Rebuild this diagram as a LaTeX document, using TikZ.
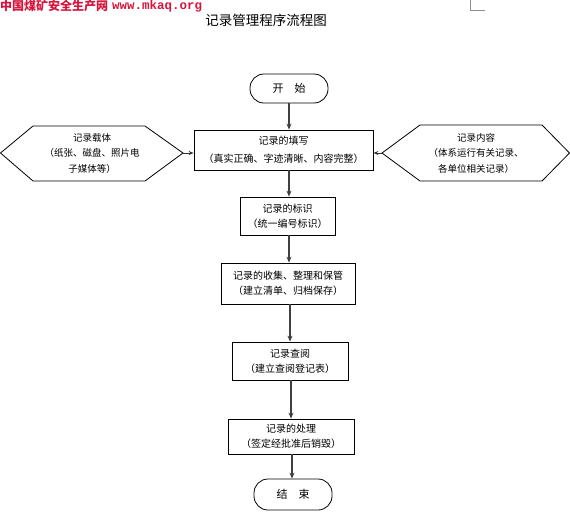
\documentclass[tikz,border=0pt]{standalone}
\usepackage{fontspec}
\setmainfont{Liberation Serif}
\newfontfamily\cjk{Noto Sans CJK SC}
\newfontfamily\wmono{Liberation Mono}
\usetikzlibrary{arrows.meta}
\definecolor{wmred}{RGB}{215,20,60}
\tikzset{
  every node/.style={font=\cjk\fontsize{10}{15}\selectfont, align=center, inner sep=0pt},
  stepbox/.style={draw=black, line width=0.8pt},
  term/.style={draw=black, line width=0.8pt, rounded corners=14pt, font=\cjk\fontsize{11}{13}\selectfont},
  flow/.style={draw=black!75, line width=1.8pt, -{Stealth[length=6pt,width=5pt]}},
  side/.style={draw=black!80, line width=0.8pt, -{Stealth[length=5pt,width=4pt]}},
  hexline/.style={draw=black, line width=0.8pt},
}
\begin{document}
\begin{tikzpicture}[x=1pt,y=-1pt]
\useasboundingbox (0,0) rectangle (570,523);
% watermark
\node[anchor=west, text=wmred, font=\cjk\bfseries\fontsize{12}{12}\selectfont] (wm) at (0,6) {中国煤矿安全生产网};
\node[anchor=west, text=wmred, font=\wmono\bfseries\fontsize{12.5}{12}\selectfont] (wm2) at (112,6) {www.mkaq.org};
\draw[black!45, line width=0.6pt] (470,0) -- (470,10) -- (485,10);
% title
\node[font=\cjk\fontsize{13.5}{14}\selectfont] (title) at (266,20) {记录管理程序流程图};
% terminals
\node[term, minimum width=78pt, minimum height=29pt] (start) at (289,88.5) {开\hspace{1em}始};
\node[term, minimum width=78pt, minimum height=31pt] (end) at (293,494.5) {结\hspace{1em}束};
% boxes
\node[stepbox, minimum width=179pt, minimum height=40pt, font=\cjk\fontsize{10}{18}\selectfont] (b1) at (283.5,150) {记录的填写\\（真实正确、字迹清晰、内容完整）};
\node[stepbox, minimum width=95pt, minimum height=38pt] (b2) at (287.5,216) {记录的标识\\（统一编号标识）};
\node[stepbox, minimum width=134pt, minimum height=41pt] (b3) at (288,283.5) {记录的收集、整理和保管\\（建立清单、归档保存）};
\node[stepbox, minimum width=116pt, minimum height=38pt] (b4) at (290,361) {记录查阅\\（建立查阅登记表）};
\node[stepbox, minimum width=126pt, minimum height=35pt] (b5) at (291,436.5) {记录的处理\\（签定经批准后销毁）};
% hexagons
\draw[hexline] (0.5,153) -- (33,126) -- (145,126) -- (183,153) -- (145,181) -- (33,181) -- cycle;
\coordinate (lp) at (183,153);
\node[font=\cjk\fontsize{9.5}{15.5}\selectfont] (lt) at (92,153) {记录载体\\（纸张、磁盘、照片电\\子媒体等）};
\draw[hexline] (382,153) -- (420,125) -- (542,125) -- (569.5,153) -- (542,181) -- (420,181) -- cycle;
\coordinate (rp) at (382,153);
\node[font=\cjk\fontsize{9.5}{15.5}\selectfont] (rt) at (476,153) {记录内容\\（体系运行有关记录、\\各单位相关记录）};
% connectors
\draw[flow] (start.south -| 289,0) -- (b1.north -| 289,0);
\draw[flow] (b1.south -| 289,0) -- (b2.north -| 289,0);
\draw[flow] (b2.south -| 289,0) -- (b3.north -| 289,0);
\draw[flow] (b3.south -| 290,0) -- (b4.north -| 290,0);
\draw[flow] (b4.south -| 291,0) -- (b5.north -| 291,0);
\draw[flow] (b5.south -| 292,0) -- (end.north -| 292,0);
\draw[side] (lp) -- (b1.west |- lp);
\draw[side] (rp) -- (b1.east |- rp);
\end{tikzpicture}
\end{document}
